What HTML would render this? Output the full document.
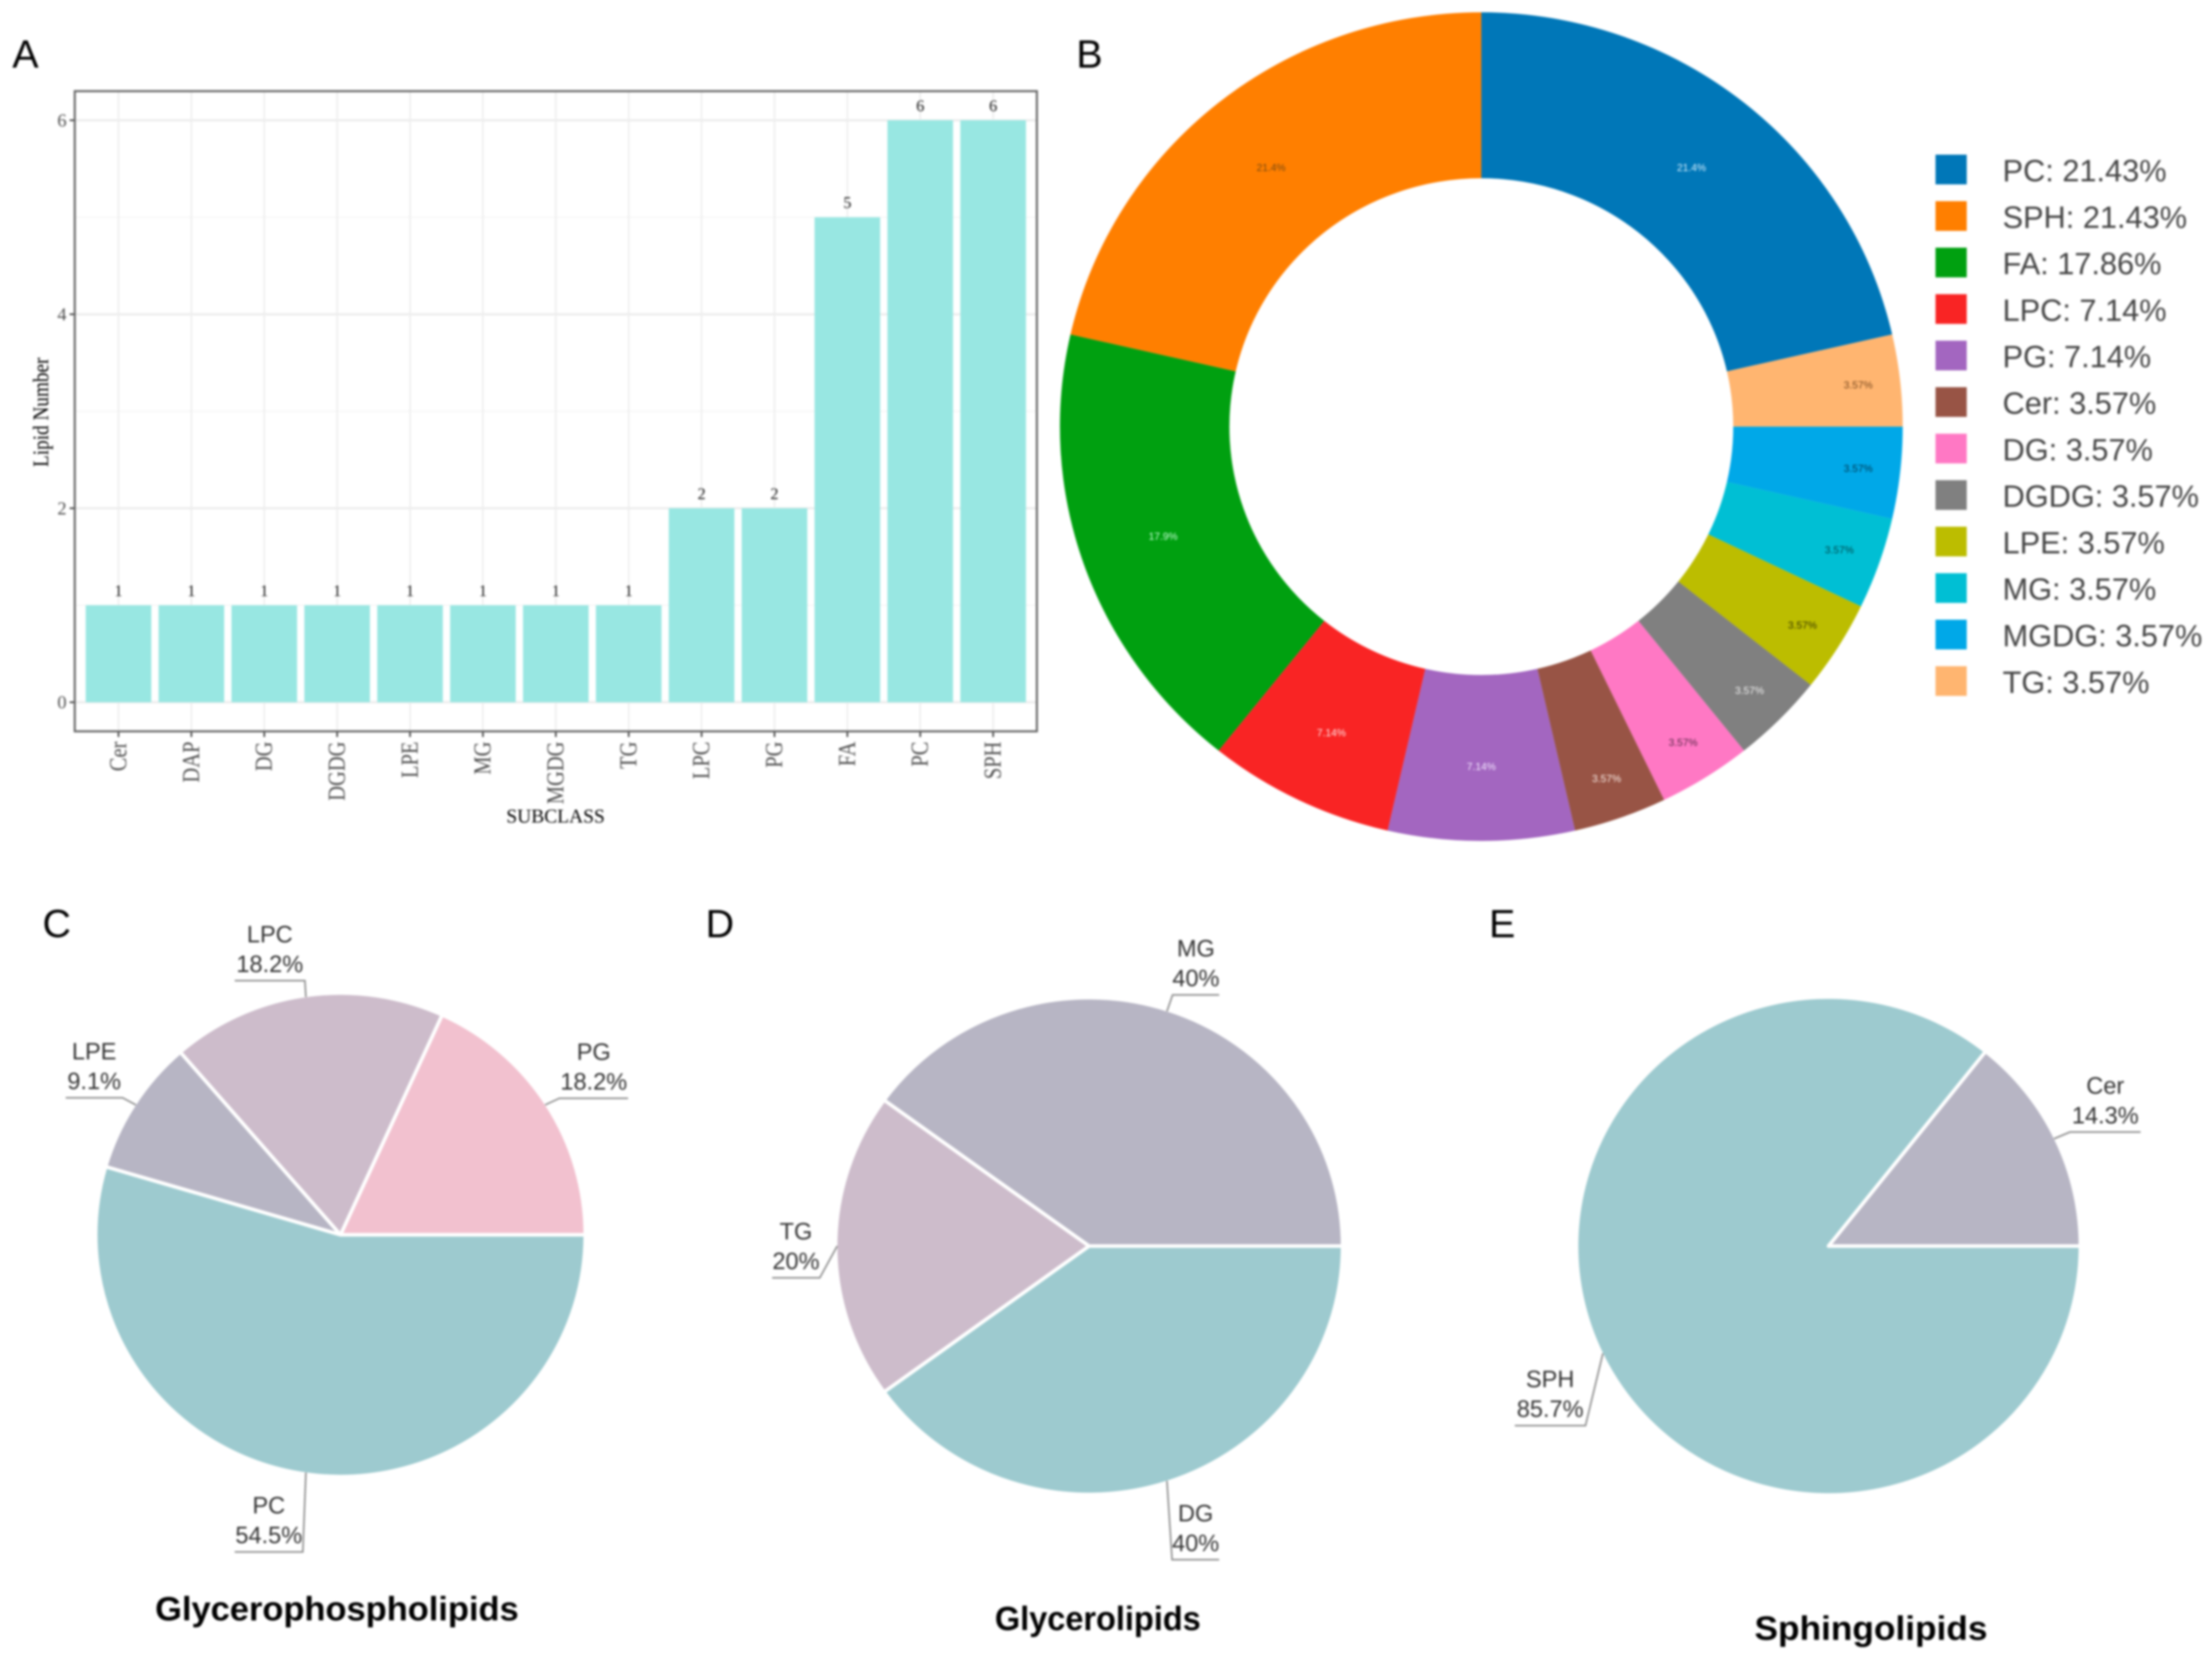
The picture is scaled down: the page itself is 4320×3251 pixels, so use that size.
<!DOCTYPE html>
<html>
<head>
<meta charset="utf-8">
<title>Lipid subclass composition</title>
<style>
html,body{margin:0;padding:0;background:#fff;}
body{width:4320px;height:3251px;overflow:hidden;}
svg{display:block;filter:blur(2px);}
text{font-family:"Liberation Sans",sans-serif;}
.serif{font-family:"Liberation Serif",serif;}
.panel-letter{font-size:77px;fill:#000;}
.pie-title{font-size:66px;font-weight:bold;fill:#000;text-anchor:middle;}
</style>
</head>
<body>
<svg id="figure" xmlns="http://www.w3.org/2000/svg" width="4320" height="3251" viewBox="0 0 4320 3251">
  <rect x="0" y="0" width="4320" height="3251" fill="#ffffff"/>
  <g id="panel-a"></g>
  <g id="panel-b"></g>
  <g id="panel-c"></g>
  <g id="panel-d"></g>
  <g id="panel-e"></g>
  <text class="panel-letter" x="24" y="132">A</text>
  <text class="panel-letter" x="2102" y="132">B</text>
  <text class="panel-letter" x="83" y="1830">C</text>
  <text class="panel-letter" x="1378" y="1830">D</text>
  <text class="panel-letter" x="2908" y="1830">E</text>
  <text class="pie-title" x="658" y="3164" textLength="710" lengthAdjust="spacingAndGlyphs">Glycerophospholipids</text>
  <text class="pie-title" x="2144" y="3183" textLength="402" lengthAdjust="spacingAndGlyphs">Glycerolipids</text>
  <text class="pie-title" x="3654" y="3202" textLength="455" lengthAdjust="spacingAndGlyphs">Sphingolipids</text>
</svg>
<script>
const barCategories = ["Cer","DAP","DG","DGDG","LPE","MG","MGDG","TG","LPC","PG","FA","PC","SPH"];
const barValues = [1,1,1,1,1,1,1,1,2,2,5,6,6];
const barMajorTicks = [0,2,4,6];
const barMinorTicks = [1,3,5];

const donutNames = ["PC","SPH","FA","LPC","PG","Cer","DG","DGDG","LPE","MG","MGDG","TG"];
const donutValues = [6,6,5,2,2,1,1,1,1,1,1,1];
const donutColors = ["#0077b8","#ff7f00","#00a010","#f92424","#a366c0","#985445","#ff78c4","#808080","#bcbd00","#00bfd4","#00a8e8","#ffb570"];
const donutTextColors = ["#d8f0ff","#7a4a10","#c8ffd8","#ffe8e8","#f4e8ff","#fbeee8","#5a2a4a","#f0f0f0","#3a3a00","#004a50","#003a55","#7a4a20"];

const gpNames = ["PG","LPC","LPE","PC"];
const gpValues = [2,2,1,6];
const gpColors = ["#f2c1cf","#cdbccb","#b7b5c4","#9dcacf"];

const glNames = ["MG","TG","DG"];
const glValues = [2,1,2];
const glColors = ["#b7b5c4","#cdbccb","#9dcacf"];

const slNames = ["Cer","SPH"];
const slValues = [1,6];
const slColors = ["#b7b5c4","#9dcacf"];

const SVGNS = "http://www.w3.org/2000/svg";
function make(tag, attrs, parent, content) {
  const node = document.createElementNS(SVGNS, tag);
  for (const k in attrs) node.setAttribute(k, attrs[k]);
  if (content !== undefined) node.textContent = content;
  parent.appendChild(node);
  return node;
}

/* ---------- Panel A: bar chart ---------- */
function drawBars() {
  const g = document.getElementById("panel-a");
  const box = {l:146, r:2025, t:178, b:1428};
  const xMin = 0.4, xMax = barCategories.length + 0.6;
  const yMin = -0.3, yMax = 6.3;
  const xPos = i => box.l + (i + 1 - xMin) / (xMax - xMin) * (box.r - box.l);
  const yPos = v => box.b - (v - yMin) / (yMax - yMin) * (box.b - box.t);
  const step = (box.r - box.l) / (xMax - xMin);
  const barW = step * 0.9;

  barMinorTicks.forEach(v => {
    const el = make("line", {x1:box.l, x2:box.r, y1:yPos(v), y2:yPos(v), stroke:"#f3f3f3", "stroke-width":2}, g);
    
    
  });
  barMajorTicks.forEach(v => {
    const el = make("line", {x1:box.l, x2:box.r, y1:yPos(v), y2:yPos(v), stroke:"#ebebeb", "stroke-width":4}, g);
    
    
  });
  barCategories.forEach((c, i) => {
    const el = make("line", {x1:xPos(i), x2:xPos(i), y1:box.t, y2:box.b, stroke:"#ededed", "stroke-width":3}, g);
    
    
  });
  barCategories.forEach((c, i) => {
    const v = barValues[i];
    const bar = make("rect", {x:xPos(i) - barW / 2, y:yPos(v), width:barW, height:yPos(0) - yPos(v), fill:"#98e7e2"}, g);
    
    
    const val = make("text", {class:"serif", x:xPos(i), y:yPos(v) - 18, "text-anchor":"middle", "font-size":32, fill:"#1a1a1a"}, g, String(v));
    
    
    const tick = make("line", {x1:xPos(i), x2:xPos(i), y1:box.b, y2:box.b + 11, stroke:"#333", "stroke-width":3}, g);
    
    
    const lab = make("text", {class:"serif", transform:"translate(" + (xPos(i) + 15) + ",1448) rotate(-90) scale(1,1.2)", "text-anchor":"end", "font-size":40, fill:"#4d4d4d"}, g, c);
    
    
  });
  barMajorTicks.forEach(v => {
    const tick = make("line", {x1:box.l - 10, x2:box.l, y1:yPos(v), y2:yPos(v), stroke:"#333", "stroke-width":3}, g);
    
    
    const lab = make("text", {class:"serif", x:130, y:yPos(v) + 12, "text-anchor":"end", "font-size":36, fill:"#4d4d4d"}, g, String(v));
    
    
  });
  const border = make("rect", {x:box.l, y:box.t, width:box.r - box.l, height:box.b - box.t, fill:"none", stroke:"#666", "stroke-width":4}, g);
  
  
  const yt = make("text", {class:"serif", transform:"translate(94,805) rotate(-90) scale(1,1.15)", "text-anchor":"middle", "font-size":37.5, fill:"#000"}, g, "Lipid Number");
  
  
  const xt = make("text", {class:"serif", x:1085, y:1606, "text-anchor":"middle", "font-size":38, fill:"#000"}, g, "SUBCLASS");
  
  
}

/* ---------- Panel B: donut ---------- */
function drawDonut() {
  const g = document.getElementById("panel-b");
  const cx = 2893, cy = 833, rx = 823, ry = 809, ix = 492, iy = 485;
  const total = donutValues.reduce((a, b) => a + b, 0);
  const at = (deg, a, b) => [cx + a * Math.sin(deg * Math.PI / 180), cy - b * Math.cos(deg * Math.PI / 180)];
  const order = [0];
  for (let i = donutNames.length - 1; i > 0; i--) order.push(i);
  let start = 0;
  order.forEach(i => {
    const sweep = donutValues[i] / total * 360;
    const end = start + sweep;
    const large = sweep > 180 ? 1 : 0;
    const p1 = at(start, rx, ry), p2 = at(end, rx, ry), p3 = at(end, ix, iy), p4 = at(start, ix, iy);
    const d = "M" + p1 + "A" + rx + " " + ry + " 0 " + large + " 1 " + p2 + "L" + p3 + "A" + ix + " " + iy + " 0 " + large + " 0 " + p4 + "Z";
    const slice = make("path", {d:d, fill:donutColors[i]}, g);
    
    
    const pct = donutValues[i] / total * 100;
    const mid = start + sweep / 2;
    const radial = pct < 5 ? 0.9 : (pct < 10 ? 0.82 : 0.8);
    const lp = at(mid, rx * radial, ry * radial);
    const t = make("text", {x:lp[0], y:lp[1] + 7, "text-anchor":"middle", "font-size":20, fill:donutTextColors[i]}, g, pct.toPrecision(3) + "%");
    
    
    start = end;
  });
  donutNames.forEach((n, i) => {
    const y = 302 + i * 90.8;
    const sw = make("rect", {x:3780, y:y, width:61, height:58, fill:donutColors[i]}, g);
    
    
    const pct = donutValues[i] / total * 100;
    const t = make("text", {x:3911, y:y + 52, "font-size":60, fill:"#444"}, g, n + ": " + pct.toFixed(2) + "%");
    
    
  });
}

/* ---------- Panels C, D, E: pies ---------- */
function drawPie(id, names, values, colors, geo, leaders) {
  const g = document.getElementById(id);
  const total = values.reduce((a, b) => a + b, 0);
  const at = (deg, a, b) => [geo.cx + a * Math.cos(deg * Math.PI / 180), geo.cy - b * Math.sin(deg * Math.PI / 180)];
  let start = 0;
  names.forEach((n, i) => {
    const sweep = values[i] / total * 360;
    const end = start + sweep;
    const p1 = at(start, geo.rx + 3, geo.ry + 3), p2 = at(end, geo.rx + 3, geo.ry + 3);
    const d = "M" + geo.cx + " " + geo.cy + "L" + p1 + "A" + (geo.rx + 3) + " " + (geo.ry + 3) + " 0 " + (sweep > 180 ? 1 : 0) + " 0 " + p2 + "Z";
    const slice = make("path", {d:d, fill:colors[i], stroke:"#fff", "stroke-width":7, "stroke-linejoin":"round"}, g);
    
    

    const mid = start + sweep / 2;
    const a = at(mid, geo.rx, geo.ry);
    const lay = leaders[i];
    const ex = a[0] + lay[0], ey = a[1] + lay[1], hx = ex + lay[2];
    const line = make("polyline", {points:a + " " + ex + "," + ey + " " + hx + "," + ey, fill:"none", stroke:"#888", "stroke-width":3}, g);
    
    
    const tx = (ex + hx) / 2;
    const name = make("text", {x:tx, y:ey - 75, "text-anchor":"middle", "font-size":46, fill:"#333"}, g, n);
    
    
    const pctText = parseFloat((values[i] / total * 100).toFixed(1)) + "%";
    const pct = make("text", {x:tx, y:ey - 17, "text-anchor":"middle", "font-size":46, fill:"#333"}, g, pctText);
    
    
    start = end;
  });
}

drawBars();
drawDonut();
drawPie("panel-c", gpNames, gpValues, gpColors, {cx:665, cy:2411, rx:475, ry:469},
  [[28,-13,134],[-2,-32,-137],[-26,-14,-111],[-6,155,-133]]);
drawPie("panel-d", glNames, glValues, glColors, {cx:2127, cy:2433, rx:492, ry:482},
  [[11,-32,91],[-34,62,-93],[10,154,92]]);
drawPie("panel-e", slNames, slValues, slColors, {cx:3571, cy:2433, rx:489, ry:483},
  [[31,-13,138],[-34,141,-138]]);
</script>
</body>
</html>
